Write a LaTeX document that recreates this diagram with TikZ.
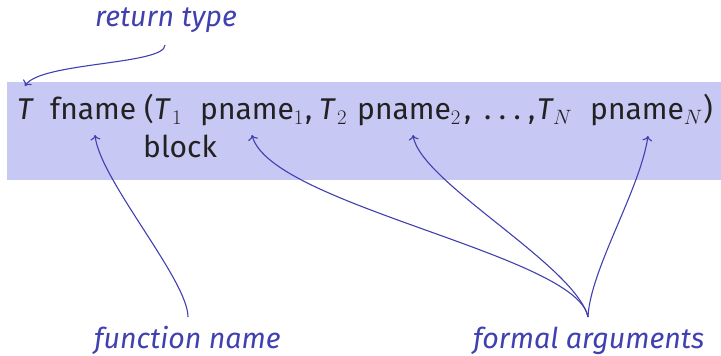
\documentclass[tikz,border=0pt]{standalone}
\usepackage{fontspec}
\setmainfont{Fira Sans}
\usetikzlibrary{arrows.meta}
\definecolor{bandfill}{RGB}{200,200,245}
\definecolor{note}{RGB}{64,64,176}
\definecolor{ink}{RGB}{34,34,34}
% lowered subscript index
\newcommand\subidx[1]{\raisebox{-5pt}{\fontsize{22}{22}\selectfont$#1$}}
\tikzset{
  code/.style={inner sep=0pt, anchor=base west, text=ink,
    font=\fontsize{30}{36}\selectfont},
  label/.style={inner sep=0pt, anchor=base west, text=note,
    font=\fontsize{28.6}{34}\selectfont\itshape},
  pointer/.style={draw=note, line width=1.1pt, -{To[length=5pt,width=10pt]}},
}
\begin{document}
\begin{tikzpicture}[x=1pt, y=-1pt]
  \useasboundingbox (0,0) rectangle (721,356);
  % highlighted declaration band
  \fill[bandfill] (7,82) rectangle (721,180);

  % the declaration itself
  \node[code] (ret) at (17,119)  {\textit{T}};
  \node[code] (fn)  at (50,119)  {fname};
  \node[code] (lp)  at (144,119) {(};
  \node[code] (t1)  at (154,119) {\textit{T}\kern1pt\subidx{1}};
  \node[code] (p1)  at (200,119) {pname\subidx{1}};
  \node[code] (c1)  at (305,119) {,};
  \node[code] (t2)  at (319,119) {\textit{T}\kern1pt\subidx{2}};
  \node[code] (p2)  at (357,119) {pname\subidx{2}};
  \node[code] (c2)  at (464,119) {,};
  \node[code] (dts) at (484,119) {.\hspace{7.5pt}.\hspace{7.5pt}.};
  \node[code] (c3)  at (528,119) {,};
  \node[code] (tN)  at (537,119) {\textit{T}\kern-1pt\subidx{N}};
  \node[code] (pN)  at (590,119) {pname\subidx{N}};
  \node[code] (rp)  at (703,119) {)};
  \node[code] (blk) at (143,157) {block};

  % annotations
  \node[label] (lret) at (95,27)  {return type};
  \node[label] (lfn)  at (94,348) {function name};
  \node[label] (larg) at (473,348) {formal arguments};

  % arrow ends
  \coordinate (sret) at (165,45);
  \coordinate (tret) at (25,86);
  \coordinate (sfn)  at (188,317);
  \coordinate (tfn)  at (95,135);
  \coordinate (sarg) at (588,317);
  \coordinate (tp1)  at (252,135);
  \coordinate (tp2)  at (413,135);
  \coordinate (tpN)  at (648,136);

  \draw[pointer] (sret) .. controls +(0,20) and +(15,-24) .. (tret);
  \draw[pointer] (sfn) .. controls +(0,-37) and +(5,45) .. (tfn);
  \draw[pointer] (sarg) .. controls +(-10,-62) and +(18,70) .. (tp1);
  \draw[pointer] (sarg) .. controls +(-13,-52) and +(7,47) .. (tp2);
  \draw[pointer] (sarg) .. controls +(2,-47) and +(-8,54) .. (tpN);
\end{tikzpicture}
\end{document}
